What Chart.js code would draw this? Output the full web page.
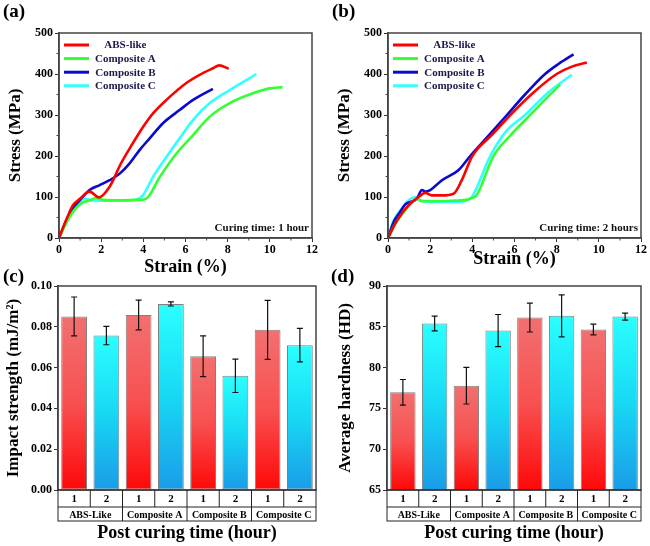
<!DOCTYPE html>
<html>
<head>
<meta charset="utf-8">
<script src="https://cdn.jsdelivr.net/npm/chart.js@4"></script>
<style>
  body { margin: 0; background: #fff; }
  #wrap { position: relative; width: 650px; height: 546px; overflow: hidden; }
  canvas { position: absolute; }
</style>
</head>
<body>
<div id="wrap">
  <canvas id="chartA" width="325" height="280" style="left:0;top:0"></canvas>
  <canvas id="chartB" width="325" height="280" style="left:325px;top:0"></canvas>
  <canvas id="chartC" width="325" height="284" style="left:0;top:262px"></canvas>
  <canvas id="chartD" width="325" height="284" style="left:325px;top:262px"></canvas>
</div>
<script>
// (a) curing time 1 hour
const strainA_abs = [0, 0.35, 0.66, 0.98, 1.45, 1.9, 2.4, 2.64, 2.9, 3.5, 4.0, 4.46, 5.1, 6.04, 6.67, 7.3, 7.6, 8.05];
const stressA_abs = [0, 45, 80, 95, 113, 99, 125, 149, 178, 231, 272, 304, 337, 378, 398, 414, 421, 413];
const strainA_a = [0, 0.5, 0.98, 1.45, 1.77, 2.1, 3.0, 3.8, 4.14, 4.78, 5.57, 6.36, 7.15, 8.1, 9.2, 10.0, 10.6];
const stressA_a = [0, 51, 82, 92, 97, 93, 92, 93, 96, 149, 206, 251, 296, 329, 353, 365, 368];
const strainA_b = [0, 0.35, 0.58, 0.98, 1.45, 1.93, 2.4, 2.88, 3.35, 3.83, 4.3, 4.93, 5.72, 6.36, 7.3];
const stressA_b = [0, 43, 68, 92, 117, 129, 141, 157, 182, 215, 243, 280, 312, 337, 364];
const strainA_c = [0, 0.43, 0.82, 1.22, 1.53, 2.2, 3.0, 3.67, 3.98, 4.46, 5.1, 5.72, 6.36, 7.15, 8.1, 9.36];
const stressA_c = [0, 51, 80, 96, 92, 91, 91, 94, 104, 149, 198, 243, 288, 329, 361, 400];

// (b) curing time 2 hours
const strainB_abs = [0, 0.43, 0.98, 1.45, 1.77, 2.08, 2.56, 3.11, 3.5, 4.0, 5.0, 5.8, 6.9, 8.0, 8.72, 9.43];
const stressB_abs = [0, 43, 80, 100, 110, 104, 104, 108, 141, 200, 255, 300, 355, 400, 418, 428];
const strainB_a = [0, 0.35, 0.82, 1.14, 1.37, 1.61, 2.08, 3.0, 3.7, 3.98, 4.2, 5.0, 5.8, 6.74, 7.5, 8.16];
const stressB_a = [0, 35, 68, 88, 95, 90, 90, 91, 93, 98, 104, 200, 250, 300, 340, 374];
const strainB_b = [0, 0.27, 0.58, 0.82, 1.06, 1.37, 1.61, 1.77, 2.0, 2.56, 3.35, 3.9, 4.6, 5.64, 6.5, 7.45, 8.1, 8.8];
const stressB_b = [0, 39, 64, 82, 88, 96, 117, 113, 117, 141, 166, 200, 240, 300, 350, 400, 425, 448];
const strainB_c = [0, 0.27, 0.66, 0.98, 1.3, 1.53, 1.93, 3.35, 3.74, 3.98, 4.85, 5.6, 6.5, 7.6, 8.72];
const stressB_c = [0, 43, 72, 92, 100, 92, 88, 88, 92, 100, 200, 260, 300, 355, 398];

const seriesNames = ['ABS-like', 'Composite A', 'Composite B', 'Composite C'];
const seriesColors = ['#ff0000', '#33ff33', '#0a0acc', '#33ffff'];
const strainTicks = [0, 2, 4, 6, 8, 10, 12];
const stressTicks = [0, 100, 200, 300, 400, 500];

// (c), (d) bars
const groups = ['ABS-Like', 'Composite A', 'Composite B', 'Composite C'];
const hours = ['1', '2', '1', '2', '1', '2', '1', '2'];
const impact = [0.0851, 0.0757, 0.0858, 0.0912, 0.0656, 0.0560, 0.0785, 0.0710];
const impactErr = [0.0095, 0.0045, 0.0073, 0.0010, 0.0100, 0.0082, 0.0145, 0.0082];
const hardness = [76.97, 85.40, 77.78, 84.54, 86.13, 86.34, 84.67, 86.25];
const hardnessErr = [1.57, 0.90, 2.24, 1.97, 1.77, 2.58, 0.67, 0.43];

const SERIF = '"Liberation Serif", "Times New Roman", serif';

// frame, panel letter, minor ticks, legend, note, error bars, category boxes
const decor = {
    id: 'decor',
    afterDraw(chart, args, o) {
        const ctx = chart.ctx;
        const a = chart.chartArea;
        ctx.save();
        ctx.strokeStyle = '#444';
        ctx.lineWidth = 1.5;
        ctx.strokeRect(a.left, a.top, a.right - a.left, a.bottom - a.top);

        ctx.fillStyle = '#000';
        ctx.font = 'bold 19px ' + SERIF;
        ctx.textBaseline = 'middle';
        ctx.textAlign = 'left';
        ctx.fillText(o.panel, o.panelX, o.panelY);

        // minor ticks
        if (o.minor) {
            ctx.lineWidth = 1;
            const xs = chart.scales.x, ys = chart.scales.y;
            for (let v = 1; v < 12; v += 2) {
                const px = xs.getPixelForValue(v);
                ctx.beginPath(); ctx.moveTo(px, a.bottom); ctx.lineTo(px, a.bottom + 2.5); ctx.stroke();
            }
            for (let v = 50; v < 500; v += 100) {
                const py = ys.getPixelForValue(v);
                ctx.beginPath(); ctx.moveTo(a.left, py); ctx.lineTo(a.left - 2.5, py); ctx.stroke();
            }
        }

        // legend inside plot
        if (o.legend) {
            ctx.font = 'bold 11px ' + SERIF;
            const ds = chart.data.datasets;
            const colW = Math.max(...ds.map(d => ctx.measureText(d.label).width));
            ds.forEach((d, i) => {
                const y = a.top + 12 + i * 13.6;
                ctx.strokeStyle = d.borderColor;
                ctx.lineWidth = 3;
                ctx.beginPath(); ctx.moveTo(a.left + 5, y); ctx.lineTo(a.left + 30, y); ctx.stroke();
                ctx.fillStyle = '#1a1a4a';
                ctx.textAlign = 'center';
                ctx.fillText(d.label, a.left + 36 + colW / 2, y + 0.5);
            });
        }

        if (o.note) {
            ctx.font = 'bold 11px ' + SERIF;
            ctx.fillStyle = '#111';
            ctx.textAlign = 'right';
            ctx.fillText(o.note, a.right - 3, a.bottom - 10);
        }

        // error bars
        if (o.errors) {
            const ys = chart.scales.y;
            const meta = chart.getDatasetMeta(0);
            const vals = chart.data.datasets[0].data;
            ctx.strokeStyle = '#111';
            ctx.lineWidth = 1.2;
            meta.data.forEach((el, i) => {
                const yt = ys.getPixelForValue(vals[i] + o.errors[i]);
                const yb = ys.getPixelForValue(vals[i] - o.errors[i]);
                ctx.beginPath();
                ctx.moveTo(el.x, yt); ctx.lineTo(el.x, yb);
                ctx.moveTo(el.x - 3, yt); ctx.lineTo(el.x + 3, yt);
                ctx.moveTo(el.x - 3, yb); ctx.lineTo(el.x + 3, yb);
                ctx.stroke();
            });
        }

        // category boxes under bars
        if (o.boxes) {
            const xs = chart.scales.x, x2 = chart.scales.x2;
            const r1 = xs.bottom, r2 = x2.top + 14;
            const n = xs.ticks.length;
            const w = (a.right - a.left) / n;
            ctx.strokeStyle = '#222';
            ctx.lineWidth = 1;
            ctx.strokeRect(a.left, a.bottom, a.right - a.left, r2 - a.bottom);
            ctx.beginPath();
            ctx.moveTo(a.left, r1); ctx.lineTo(a.right, r1);
            for (let i = 1; i < n; i++) {
                const px = a.left + i * w;
                ctx.moveTo(px, a.bottom);
                ctx.lineTo(px, i % 2 === 0 ? r2 : r1);
            }
            ctx.stroke();
        }
        ctx.restore();
    }
};

function lineChart(id, strains, stresses, panel, panelX, note, yTitleX) {
    const datasets = seriesNames.map((name, i) => ({
        label: name,
        data: strains[i].map((s, k) => ({ x: s, y: stresses[i][k] })),
        borderColor: seriesColors[i],
        borderWidth: 2.6,
        pointRadius: 0,
        cubicInterpolationMode: 'monotone',
        fill: false
    }));
    const chartBottom = 238;
    return new Chart(document.getElementById(id), {
        type: 'line',
        data: { datasets: datasets },
        options: {
            responsive: false,
            animation: false,
            layout: { padding: { top: 33, right: 325 - (id === 'chartA' ? 312 : 316), left: 0, bottom: 0 } },
            scales: {
                x: {
                    type: 'linear', min: 0, max: 12,
                    afterBuildTicks: s => { s.ticks = strainTicks.map(v => ({ value: v })); },
                    afterFit: s => { s.height = 280 - chartBottom; },
                    grid: { drawOnChartArea: false, tickLength: 4, color: '#333' },
                    border: { color: '#444', width: 1.5 },
                    ticks: { color: '#000', padding: 1, font: { family: SERIF, size: 12, weight: 'bold' } },
                    title: {
                        display: true, text: 'Strain (%)', color: '#000',
                        font: { family: SERIF, size: 18, weight: 'bold', lineHeight: 1 },
                        padding: { top: 0, bottom: id === 'chartA' ? 4 : 12 }
                    }
                },
                y: {
                    type: 'linear', min: 0, max: 500,
                    afterBuildTicks: s => { s.ticks = stressTicks.map(v => ({ value: v })); },
                    afterFit: s => { s.width = id === 'chartA' ? 59 : 63; },
                    grid: { drawOnChartArea: false, tickLength: 4, color: '#333' },
                    border: { color: '#444', width: 1.5 },
                    ticks: { color: '#000', padding: 2, font: { family: SERIF, size: 12, weight: 'bold' } },
                    title: {
                        display: true, text: 'Stress (MPa)', color: '#000',
                        font: { family: SERIF, size: 17, weight: 'bold', lineHeight: 1 },
                        padding: { top: yTitleX - 8.5, bottom: 0 }
                    }
                }
            },
            plugins: {
                legend: { display: false },
                tooltip: { enabled: false },
                decor: { panel: panel, panelX: panelX, panelY: 12, minor: true, legend: true, note: note }
            }
        },
        plugins: [decor]
    });
}

function barFill(ctx) {
    const chart = ctx.chart;
    const a = chart.chartArea;
    const red = ctx.dataIndex % 2 === 0;
    if (!a) return red ? '#f55' : '#2ee';
    const v = chart.data.datasets[0].data[ctx.dataIndex];
    const top = chart.scales.y.getPixelForValue(v);
    const g = chart.ctx.createLinearGradient(0, top, 0, a.bottom);
    if (red) {
        g.addColorStop(0, '#f27070');
        g.addColorStop(0.5, '#f85050');
        g.addColorStop(1, '#ff0808');
    } else {
        g.addColorStop(0, '#2affff');
        g.addColorStop(0.5, '#18d8f4');
        g.addColorStop(1, '#1a9ce8');
    }
    return g;
}

function barChart(id, values, errors, yMin, yMax, step, yTitle, digits, panel, panelX, left, yTitleX) {
    const top = 24, bottom = 228;
    return new Chart(document.getElementById(id), {
        type: 'bar',
        data: {
            labels: hours,
            datasets: [{
                data: values,
                backgroundColor: barFill,
                borderColor: '#808080',
                borderWidth: 1,
                borderSkipped: false,
                categoryPercentage: 1,
                barPercentage: 0.8
            }]
        },
        options: {
            responsive: false,
            animation: false,
            layout: { padding: { top: top, right: 9, left: 0, bottom: 0 } },
            scales: {
                x: {
                    weight: 0,
                    afterFit: s => { s.height = 17; },
                    grid: { display: false, drawTicks: false },
                    border: { display: false },
                    ticks: { color: '#000', padding: 3, font: { family: SERIF, size: 11, weight: 'bold' } }
                },
                x2: {
                    type: 'category', position: 'bottom', weight: 1, offset: true,
                    labels: groups,
                    afterFit: s => { s.height = 284 - bottom - 17; },
                    grid: { display: false, drawTicks: false },
                    border: { display: false },
                    ticks: { color: '#000', padding: 2, font: { family: SERIF, size: 10, weight: 'bold' } },
                    title: {
                        display: true, text: 'Post curing time (hour)', color: '#000',
                        font: { family: SERIF, size: 18, weight: 'bold', lineHeight: 1 },
                        padding: { top: 0, bottom: 4 }
                    }
                },
                y: {
                    min: yMin, max: yMax,
                    afterBuildTicks: s => {
                        const t = [];
                        for (let v = yMin; v <= yMax + 1e-9; v += step) t.push({ value: +v.toFixed(4) });
                        s.ticks = t;
                    },
                    afterFit: s => { s.width = left; },
                    grid: { drawOnChartArea: false, tickLength: 4, color: '#333' },
                    border: { color: '#444', width: 1.5 },
                    ticks: {
                        color: '#000', padding: 2, font: { family: SERIF, size: 12, weight: 'bold' },
                        callback: v => v.toFixed(digits)
                    },
                    title: {
                        display: true, text: yTitle, color: '#000',
                        font: { family: SERIF, size: 17, weight: 'bold', lineHeight: 1 },
                        padding: { top: yTitleX - 8.5, bottom: 0 }
                    }
                }
            },
            plugins: {
                legend: { display: false },
                tooltip: { enabled: false },
                decor: { panel: panel, panelX: panelX, panelY: 15, errors: errors, boxes: true }
            }
        },
        plugins: [decor]
    });
}

lineChart('chartA', [strainA_abs, strainA_a, strainA_b, strainA_c],
    [stressA_abs, stressA_a, stressA_b, stressA_c], '(a)', 3, 'Curing time: 1 hour', 16);
lineChart('chartB', [strainB_abs, strainB_a, strainB_b, strainB_c],
    [stressB_abs, stressB_a, stressB_b, stressB_c], '(b)', 7, 'Curing time: 2 hours', 19.5);
barChart('chartC', impact, impactErr, 0, 0.1, 0.02, 'Impact strength (mJ/m²)', 2, '(c)', 3, 58, 13.5);
barChart('chartD', hardness, hardnessErr, 65, 90, 5, 'Average hardness (HD)', 0, '(d)', 6, 62, 21);
</script>
</body>
</html>
